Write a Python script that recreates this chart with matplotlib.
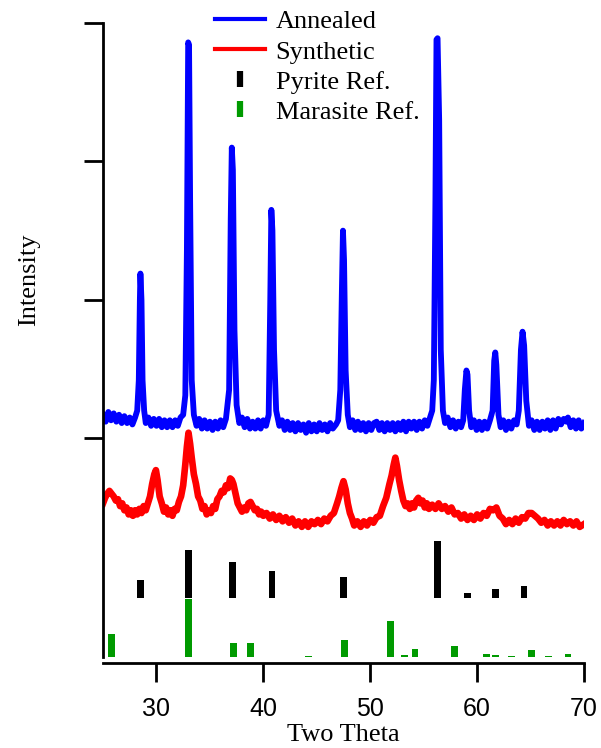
import matplotlib
matplotlib.use("Agg")
import matplotlib.pyplot as plt
from matplotlib.lines import Line2D
import numpy as np

# ========= Data (arbitrary intensity units) =========
annealed_tt = [
    25.0, 25.25, 25.5, 25.75, 26.0, 26.25, 26.5, 26.75, 27.0, 27.25, 27.5, 27.75, 28.0,
    28.2, 28.35, 28.45, 28.5, 28.6, 28.7, 28.85,
    29.0, 29.25, 29.5, 29.75, 30.0, 30.25, 30.5, 30.75, 31.0, 31.25, 31.5, 31.75, 32.0, 32.25,
    32.5, 32.7, 32.85, 32.97, 33.05, 33.15, 33.3, 33.5,
    33.75, 34.0, 34.25, 34.5, 34.75, 35.0, 35.25, 35.5, 35.75, 36.0, 36.25,
    36.5, 36.8, 36.95, 37.05, 37.15, 37.3, 37.5,
    37.75, 38.0, 38.25, 38.5, 38.75, 39.0, 39.25, 39.5, 39.75, 40.0, 40.25,
    40.5, 40.65, 40.75, 40.85, 41.0, 41.2,
    41.5, 41.75, 42.0, 42.25, 42.5, 42.75, 43.0, 43.25, 43.5, 43.75, 44.0, 44.25, 44.5, 44.75,
    45.0, 45.25, 45.5, 45.75, 46.0, 46.25, 46.5, 46.8,
    47.0, 47.2, 47.35, 47.45, 47.55, 47.7, 47.9,
    48.1, 48.35, 48.6, 48.85, 49.1, 49.35, 49.6, 49.85, 50.1, 50.35, 50.6, 50.85, 51.1, 51.35,
    51.6, 51.85, 52.1, 52.35, 52.6, 52.85, 53.1, 53.35, 53.6, 53.85, 54.1, 54.35, 54.6, 54.85,
    55.1, 55.35, 55.6, 55.8, 55.95, 56.1, 56.2, 56.3, 56.45, 56.6, 56.8,
    57.0, 57.25, 57.5, 57.75, 58.0, 58.25, 58.5, 58.7, 58.85, 59.0, 59.1, 59.25,
    59.45, 59.7, 59.95, 60.2, 60.45, 60.7, 60.95, 61.2, 61.45, 61.6, 61.7, 61.8, 62.0,
    62.2, 62.45, 62.7, 62.95, 63.2, 63.45, 63.7, 63.9, 64.1, 64.25, 64.4, 64.6,
    64.85, 65.1, 65.35, 65.6, 65.85, 66.1, 66.35, 66.6, 66.85, 67.1, 67.35, 67.6, 67.85,
    68.1, 68.35, 68.5, 68.75, 69.0, 69.25, 69.5, 69.75, 70.0,
]
annealed_int = [
    170, 120, 190, 130, 180, 120, 170, 110, 160, 110, 150, 100, 150,
    200, 420, 1000, 1190, 1000, 420, 200,
    110, 150, 90, 140, 90, 140, 80, 130, 80, 130, 80, 130, 90, 150,
    170, 310, 1360, 2860, 2840, 1720, 420, 170,
    90, 140, 70, 130, 70, 120, 60, 120, 70, 130, 80,
    140, 350, 1580, 2100, 1940, 780, 240,
    110, 150, 80, 140, 70, 120, 70, 130, 70, 130, 90,
    170, 1000, 1650, 1500, 640, 200,
    90, 130, 60, 120, 60, 110, 50, 110, 60, 100, 40, 110, 50, 100,
    50, 110, 60, 100, 50, 110, 70, 100,
    130, 350, 1070, 1500, 1290, 490, 170,
    80, 130, 60, 120, 60, 110, 50, 110, 60, 110, 120, 60, 110, 50,
    110, 60, 110, 50, 110, 60, 120, 50, 120, 70, 120, 60, 120, 70,
    130, 90, 150, 200, 420, 1720, 2880, 2890, 2300, 640, 200,
    110, 150, 80, 130, 70, 120, 80, 130, 350, 490, 460, 200,
    80, 130, 60, 120, 60, 120, 70, 130, 200, 560, 620, 530, 170,
    80, 130, 60, 120, 70, 130, 100, 200, 640, 770, 670, 270,
    90, 130, 60, 120, 60, 120, 70, 130, 60, 130, 70, 140, 100,
    140, 120, 150, 80, 130, 70, 130, 70, 110,
]

synthetic_tt = [
    25.0, 25.2, 25.4, 25.6, 25.8, 26.0, 26.2, 26.4, 26.6, 26.8, 27.0, 27.2, 27.4, 27.6, 27.8,
    28.0, 28.2, 28.4, 28.6, 28.8, 29.0, 29.2, 29.4, 29.6, 29.8, 29.95, 30.1, 30.3, 30.5, 30.7,
    30.9, 31.1, 31.3, 31.5, 31.7, 31.9, 32.1, 32.3, 32.5, 32.7, 32.85, 33.0, 33.15, 33.3, 33.5,
    33.7, 33.9, 34.1, 34.3, 34.5, 34.7, 34.9, 35.1, 35.3, 35.5, 35.7, 35.9, 36.1, 36.3, 36.5,
    36.7, 36.9, 37.05, 37.2, 37.4, 37.6, 37.8, 38.0, 38.2, 38.4, 38.6, 38.8, 39.0, 39.2, 39.4,
    39.6, 39.8, 40.0, 40.3, 40.6, 40.9, 41.2, 41.5, 41.8, 42.1, 42.4, 42.7, 43.0, 43.3, 43.6,
    43.9, 44.2, 44.5, 44.8, 45.1, 45.4, 45.7, 46.0, 46.3, 46.6, 46.9, 47.1, 47.3, 47.5, 47.7,
    47.9, 48.1, 48.3, 48.5, 48.8, 49.1, 49.4, 49.7, 50.0, 50.3, 50.6, 50.9, 51.2, 51.5, 51.8,
    52.0, 52.2, 52.35, 52.5, 52.7, 52.9, 53.1, 53.3, 53.5, 53.7, 53.9, 54.1, 54.3, 54.5, 54.7,
    54.9, 55.1, 55.3, 55.5, 55.8, 56.1, 56.4, 56.7, 57.0, 57.3, 57.6, 57.9, 58.2, 58.5, 58.8,
    59.1, 59.4, 59.7, 60.0, 60.3, 60.6, 60.9, 61.2, 61.5, 61.8, 62.1, 62.4, 62.7, 63.0, 63.3,
    63.6, 63.9, 64.2, 64.5, 64.8, 65.1, 65.4, 65.7, 66.0, 66.3, 66.6, 66.9, 67.2, 67.5, 67.8,
    68.1, 68.4, 68.7, 69.0, 69.3, 69.6, 70.0,
]
synthetic_int = [
    -470, -430, -400, -380, -400, -420, -450, -440, -490, -470, -520, -500, -550, -520, -560,
    -520, -550, -510, -540, -490, -520, -470, -420, -330, -260, -230, -300, -420, -470, -530,
    -500, -550, -520, -560, -510, -520, -460, -420, -340, -190, -60, 40, -40, -140, -260,
    -330, -420, -450, -510, -490, -550, -520, -540, -490, -510, -440, -420, -380, -390, -340,
    -360, -290, -300, -330, -400, -470, -500, -530, -500, -520, -470, -460, -490, -520, -510,
    -550, -530, -560, -540, -580, -550, -590, -560, -600, -570, -610, -580, -630, -600, -640,
    -600, -640, -600, -620, -590, -620, -580, -600, -560, -540, -470, -420, -360, -310, -370,
    -470, -540, -580, -630, -600, -640, -600, -630, -590, -610, -570, -560, -490, -430, -330,
    -270, -190, -140, -200, -300, -380, -450, -490, -470, -510, -470, -500, -450, -430, -470,
    -450, -500, -470, -510, -480, -510, -470, -510, -490, -530, -500, -550, -540, -580, -550,
    -590, -560, -590, -550, -580, -540, -560, -510, -520, -500, -560, -580, -620, -590, -620,
    -580, -610, -570, -580, -540, -540, -560, -580, -610, -590, -630, -600, -630, -600, -630,
    -590, -620, -600, -630, -600, -640, -620,
]

# stick patterns: position (2 theta) and relative intensity (%)
pyrite_tt = [28.5, 33.0, 37.1, 40.8, 47.5, 56.3, 59.1, 61.7, 64.4]
pyrite_rel = [32, 84, 63, 47, 37, 100, 9, 16, 21]
marcasite_tt = [25.8, 33.0, 37.2, 38.8, 44.2, 47.6, 51.9, 53.2, 54.2, 57.9,
                60.9, 61.7, 63.2, 65.1, 66.7, 68.5]
marcasite_rel = [40, 100, 24, 24, 2, 29, 62, 3, 14, 19, 5, 3, 1, 12, 1, 5]

# ========= Plot =========
plt.rcParams["font.family"] = ["Liberation Serif", "DejaVu Serif"]

fig = plt.figure(figsize=(6.01, 7.48), dpi=100)
ax = fig.add_axes([103 / 601, 1 - 657 / 748, 481 / 601, 634 / 748])

ax.plot(synthetic_tt, synthetic_int, color="#ff0000", lw=4.8, solid_joinstyle="round")
ax.plot(annealed_tt, annealed_int, color="#0000ff", lw=4.2, solid_joinstyle="round")

stick_scale = 4.15
ax.bar(pyrite_tt, np.array(pyrite_rel) * stick_scale, bottom=-1157, width=0.62,
       color="black", linewidth=0)
ax.bar(marcasite_tt, np.array(marcasite_rel) * stick_scale, bottom=-1578, width=0.62,
       color="#009a00", linewidth=0)

ax.set_xlim(25, 70)
ax.set_ylim(-1580, 3000)
ax.set_xticks([30, 40, 50, 60, 70])
ax.set_yticks([0, 1000, 2000, 3000])
ax.set_yticklabels([])

for side in ("top", "right"):
    ax.spines[side].set_visible(False)
ax.spines["left"].set_linewidth(2.0)
ax.spines["bottom"].set_linewidth(2.0)
ax.spines["bottom"].set_position(("outward", 4))
ax.tick_params(axis="both", direction="out", length=14, width=2.0)
ax.tick_params(axis="x", pad=11, labelsize=18)
for lab in ax.get_xticklabels():
    lab.set_family(["Liberation Sans", "DejaVu Sans"])

ax.set_xlabel("Two Theta", fontsize=19)
ax.xaxis.set_label_coords(0.5, -0.106)
ax.set_ylabel("Intensity", fontsize=19)
ax.yaxis.set_label_coords(-0.13, 0.595)

handles = [
    Line2D([], [], color="#0000ff", lw=3),
    Line2D([], [], color="#ff0000", lw=3),
    Line2D([], [], color="black", ls="none", marker="|", ms=11, mew=4.5),
    Line2D([], [], color="#009a00", ls="none", marker="|", ms=11, mew=4.5),
]
labels = ["Annealed", "Synthetic", "Pyrite Ref.", "Marasite Ref."]
fig.legend(handles, labels, loc="upper left", bbox_to_anchor=(215 / 601, 1 - 10 / 748),
           frameon=False, fontsize=19, handlelength=1.9, handletextpad=0.4,
           labelspacing=0.25, borderpad=0, borderaxespad=0)

fig.savefig("out.png", dpi=100)
plt.close(fig)
